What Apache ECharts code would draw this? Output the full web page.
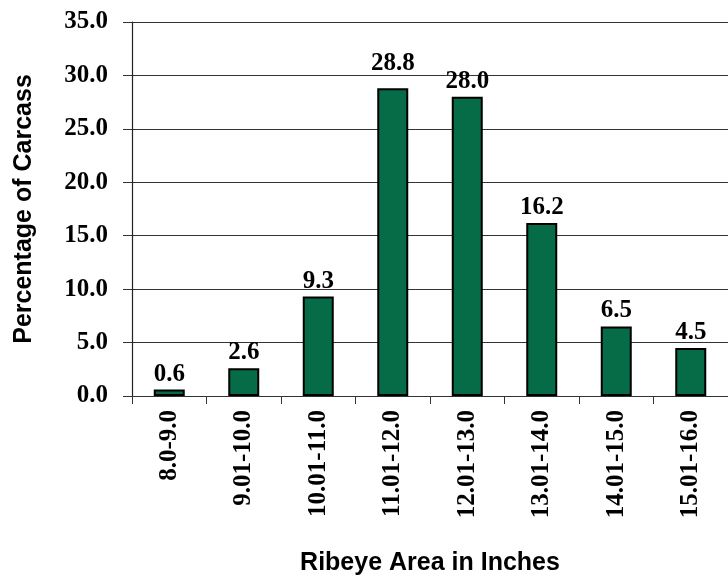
<!DOCTYPE html>
<html>
<head>
<meta charset="utf-8">
<script src="https://cdn.jsdelivr.net/npm/echarts@6/dist/echarts.min.js"></script>
<style>
  html, body { margin: 0; padding: 0; background: #fff; }
  #chart { width: 728px; height: 581px; }
</style>
</head>
<body>
<div id="chart"></div>
<script>
// Ribeye area distribution (percentage of carcasses per size class)
const categories = ['8.0-9.0', '9.01-10.0', '10.01-11.0', '11.01-12.0', '12.01-13.0', '13.01-14.0', '14.01-15.0', '15.01-16.0'];
const percentages = [0.6, 2.6, 9.3, 28.8, 28.0, 16.2, 6.5, 4.5];
const yTicks = [0, 5, 10, 15, 20, 25, 30, 35];

const serif = '"Liberation Serif", "Times New Roman", serif';
const sans = '"Liberation Sans", Arial, sans-serif';

// the tallest bar's label sits clear of the 30.0 gridline
const peak = Math.max(...percentages);
const barData = percentages.map(v =>
  v === peak ? { value: v, label: { distance: 12 } } : v
);

const chart = echarts.init(document.getElementById('chart'), null, { renderer: 'canvas' });

chart.setOption({
  animation: false,
  backgroundColor: '#ffffff',
  grid: { left: 132, right: -8, top: 22, bottom: 183, containLabel: false },
  xAxis: {
    type: 'category',
    data: categories,
    name: 'Ribeye Area in Inches',
    nameLocation: 'middle',
    nameGap: 155,
    nameTextStyle: { fontFamily: sans, fontWeight: 'bold', fontSize: 25, color: '#000' },
    axisLine: { lineStyle: { color: '#333', width: 1 } },
    axisTick: { show: true, length: 8, alignWithLabel: false, lineStyle: { color: '#333' } },
    axisLabel: {
      rotate: 90,
      margin: 14,
      fontFamily: serif,
      fontWeight: 'bold',
      fontSize: 25,
      color: '#000'
    }
  },
  yAxis: {
    type: 'value',
    min: yTicks[0],
    max: yTicks[yTicks.length - 1],
    interval: 5,
    name: 'Percentage of Carcass',
    nameLocation: 'middle',
    nameGap: 95,
    nameRotate: 90,
    nameTextStyle: { fontFamily: sans, fontWeight: 'bold', fontSize: 25, color: '#000' },
    axisLine: { show: true, lineStyle: { color: '#222', width: 1.2 } },
    axisTick: { show: true, length: 9, lineStyle: { color: '#333' } },
    splitLine: { show: true, lineStyle: { color: '#333', width: 1 } },
    axisLabel: {
      margin: 24,
      fontFamily: serif,
      fontWeight: 'bold',
      fontSize: 25,
      color: '#000',
      formatter: v => v.toFixed(1)
    }
  },
  series: [{
    type: 'bar',
    data: barData,
    barWidth: 31,
    itemStyle: { color: '#066B47', borderColor: '#000', borderWidth: 2 },
    label: {
      show: true,
      position: 'top',
      distance: 3,
      fontFamily: serif,
      fontWeight: 'bold',
      fontSize: 25,
      color: '#000',
      formatter: p => p.value.toFixed(1)
    }
  }]
});
</script>
</body>
</html>
